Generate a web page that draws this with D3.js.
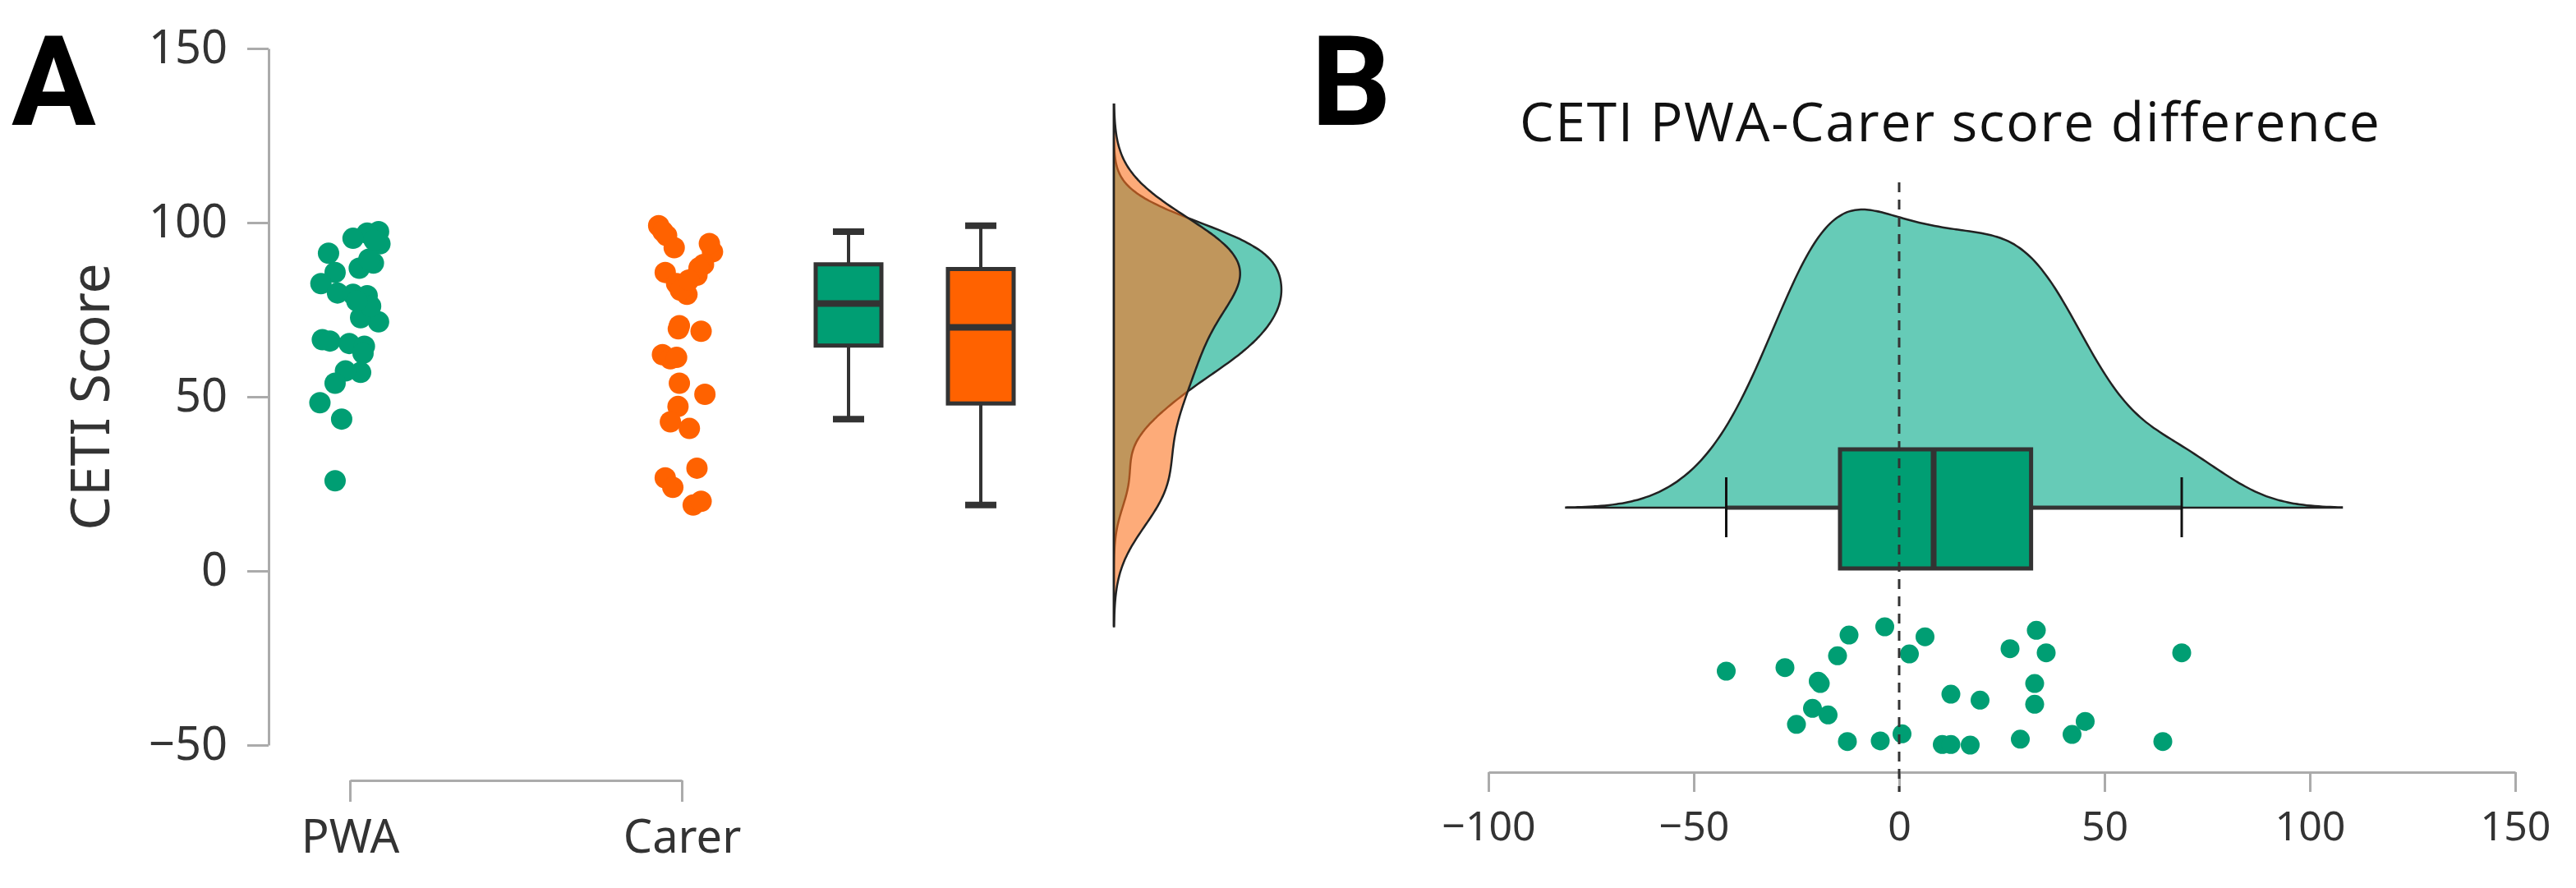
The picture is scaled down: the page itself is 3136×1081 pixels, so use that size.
<!DOCTYPE html>
<html>
<head>
<meta charset="utf-8">
<script src="https://cdn.jsdelivr.net/npm/d3@7/dist/d3.min.js"></script>
<style>
    body { margin: 0; background: #fff; }
</style>
</head>
<body>
<div id="chart"></div>
<script>
'use strict';

// values, jitter is the sideways spread of each dot (-1..1)
var groups = ['PWA', 'Carer'];

var pwaScores = [97.4, 97.0, 95.5, 93.9, 91.2, 88.4, 86.9, 85.7, 82.5, 79.8,
    79.4, 79.0, 73.5, 71.5, 72.7, 66.4, 66.0, 65.3, 64.5, 62.5,
    57.0, 57.4, 53.9, 48.3, 43.6, 25.9, 76.0, 77.5, 89.5, 95.0];
var pwaJitter = [0.83, 0.5, 0.09, 0.87, -0.62, 0.68, 0.27, -0.43, -0.84, -0.36,
    0.09, 0.5, 0.38, 0.83, 0.31, -0.8, -0.58, -0.02, 0.42, 0.38,
    0.31, -0.13, -0.43, -0.87, -0.24, -0.43, 0.6, 0.2, 0.55, 0.7];

var carerScores = [99.1, 96.3, 92.8, 91.6, 88.0, 85.7, 84.9, 82.5, 79.4, 70.4,
    68.8, 62.1, 60.9, 61.3, 53.9, 50.7, 47.2, 42.8, 40.9, 29.5,
    26.7, 24.0, 18.9, 20.0, 80.6, 97.5, 94.0, 87.0, 83.5, 69.5];
var carerJitter = [-0.67, -0.44, -0.22, 0.89, 0.63, -0.48, 0.44, -0.15, 0.15, -0.07,
    0.56, -0.56, -0.33, -0.15, -0.07, 0.67, -0.11, -0.33, 0.22, 0.44,
    -0.48, -0.26, 0.33, 0.56, -0.04, -0.55, 0.8, 0.5, 0.2, -0.1];

var diffScores = [-42.1, -27.8, -19.7, -19.2, -15.0, -12.2, -3.5, 6.3, 2.5, -21.1,
    -17.3, -25.0, -12.6, -4.6, 0.7, 10.5, 12.6, 17.3, 12.6, 19.7,
    27.0, 33.4, 35.8, 33.0, 33.0, 29.5, 42.1, 45.3, 64.2, 68.8];
var diffJitter = [-0.25, -0.31, -0.08, -0.04, -0.51, -0.86, -1.0, -0.83, -0.54, 0.38,
    0.49, 0.65, 0.94, 0.93, 0.81, 0.99, 0.99, 1.0, 0.14, 0.24,
    -0.63, -0.94, -0.56, -0.04, 0.31, 0.9, 0.82, 0.6, 0.94, -0.56];

var scoreTicks = [-50, 0, 50, 100, 150];
var diffTicks = [-100, -50, 0, 50, 100, 150];

var width = 3136;
var height = 1081;

var dotGreen = '#009e73';
var dotOrange = '#ff6200';
var dark = '#333';
var axisGrey = '#ababab';
var labelFont = '"Noto Sans", sans-serif';

var svg = d3.select('#chart').append('svg')
    .attr('width', width)
    .attr('height', height);

// rule-of-thumb bandwidth (nrd0)
var bandwidth = function(values) {
    var sorted = values.slice().sort(d3.ascending);
    var iqr = d3.quantile(sorted, 0.75) - d3.quantile(sorted, 0.25);
    return 0.9 * Math.min(d3.deviation(values), iqr / 1.34) * Math.pow(values.length, -0.2);
};

// gaussian kernel density evaluated on [lo, hi]
var kde = function(values, bw, lo, hi) {
    var grid = d3.range(lo, hi, (hi - lo) / 200).concat([hi]);
    return grid.map(function(x) {
        var s = d3.sum(values, function(v) {
            var u = (x - v) / bw;
            return Math.exp(-0.5 * u * u);
        });
        return [x, s / (values.length * bw * Math.sqrt(2 * Math.PI))];
    });
};

var boxStats = function(values) {
    var sorted = values.slice().sort(d3.ascending);
    var q1 = d3.quantile(sorted, 0.25);
    var med = d3.quantile(sorted, 0.5);
    var q3 = d3.quantile(sorted, 0.75);
    var iqr = q3 - q1;
    var lo = d3.min(sorted.filter(function(v) { return v >= q1 - 1.5 * iqr; }));
    var hi = d3.max(sorted.filter(function(v) { return v <= q3 + 1.5 * iqr; }));
    return {q1: q1, med: med, q3: q3, lo: lo, hi: hi};
};

var styleAxis = function(g, size) {
    g.select('.domain').attr('stroke', axisGrey).attr('stroke-width', 3);
    g.selectAll('.tick line').attr('stroke', axisGrey).attr('stroke-width', 3);
    g.selectAll('.tick text')
        .attr('fill', dark)
        .style('font-family', labelFont)
        .style('font-size', size + 'px');
};

// ---------- panel A ----------
var yA = d3.scaleLinear().domain([-50, 150]).range([907, 59]);
var xA = d3.scalePoint().domain(groups).range([426, 830]);
var xBox = d3.scalePoint().domain(groups).range([1033, 1194]);
var jitterA = d3.scaleLinear().domain([-1, 1]).range([-42, 42]);

var sets = [
    {name: 'PWA', scores: pwaScores, jitter: pwaJitter, color: dotGreen, violin: '#00a987'},
    {name: 'Carer', scores: carerScores, jitter: carerJitter, color: dotOrange, violin: '#fc731f'}
];

var yAxisA = svg.append('g')
    .attr('transform', 'translate(327,0)')
    .call(d3.axisLeft(yA).tickValues(scoreTicks).tickSize(26).tickSizeOuter(0).tickPadding(24));
styleAxis(yAxisA, 56);

var xAxisA = svg.append('g')
    .attr('transform', 'translate(0,950)')
    .call(d3.axisBottom(xA).tickSize(26).tickSizeOuter(0).tickPadding(22));
styleAxis(xAxisA, 56);

svg.append('text')
    .attr('transform', 'translate(133,483) rotate(-90)')
    .attr('text-anchor', 'middle')
    .style('font-family', labelFont)
    .style('font-size', '66px')
    .attr('fill', dark)
    .text('CETI Score');

// jittered dots
sets.forEach(function(set) {
    svg.append('g').selectAll('circle')
        .data(set.scores)
        .enter().append('circle')
        .attr('cx', function(d, i) { return xA(set.name) + jitterA(set.jitter[i]); })
        .attr('cy', function(d) { return yA(d); })
        .attr('r', 13)
        .attr('fill', set.color);
});

// box plots
sets.forEach(function(set) {
    var st = boxStats(set.scores);
    var cx = xBox(set.name);
    var g = svg.append('g');
    g.append('line')
        .attr('x1', cx).attr('x2', cx)
        .attr('y1', yA(st.hi)).attr('y2', yA(st.lo))
        .attr('stroke', dark).attr('stroke-width', 4);
    [st.hi, st.lo].forEach(function(v) {
        g.append('line')
            .attr('x1', cx - 19).attr('x2', cx + 19)
            .attr('y1', yA(v)).attr('y2', yA(v))
            .attr('stroke', dark).attr('stroke-width', 8);
    });
    g.append('rect')
        .attr('x', cx - 40).attr('width', 80)
        .attr('y', yA(st.q3)).attr('height', yA(st.q1) - yA(st.q3))
        .attr('fill', set.color)
        .attr('stroke', dark).attr('stroke-width', 5);
    g.append('line')
        .attr('x1', cx - 40).attr('x2', cx + 40)
        .attr('y1', yA(st.med)).attr('y2', yA(st.med))
        .attr('stroke', dark).attr('stroke-width', 8);
});

// half violins on a shared range, orange drawn over green
sets.forEach(function(set) { set.bw = bandwidth(set.scores); });
var loA = d3.min(sets, function(s) { return d3.min(s.scores) - 3 * s.bw; });
var hiA = d3.max(sets, function(s) { return d3.max(s.scores) + 3 * s.bw; });
var densA = sets.map(function(set) { return kde(set.scores, set.bw, loA, hiA); });
var maxA = d3.max(densA, function(d) { return d3.max(d, function(p) { return p[1]; }); });
var xViolin = d3.scaleLinear().domain([0, maxA]).range([1356, 1560]);

var violinArea = d3.area()
    .curve(d3.curveBasis)
    .y(function(d) { return yA(d[0]); })
    .x0(xViolin(0))
    .x1(function(d) { return xViolin(d[1]); });

sets.forEach(function(set, i) {
    svg.append('path')
        .datum(densA[i])
        .attr('d', violinArea)
        .attr('fill', set.violin)
        .attr('fill-opacity', 0.6)
        .attr('stroke', '#222')
        .attr('stroke-width', 2.5);
});

// ---------- panel B ----------
var xB = d3.scaleLinear().domain([-100, 150]).range([1812, 3062]);
var baseB = 618;
var jitterB = d3.scaleLinear().domain([-1, 1]).range([763, 907]);

var xAxisB = svg.append('g')
    .attr('transform', 'translate(0,940)')
    .call(d3.axisBottom(xB).tickValues(diffTicks).tickSize(24).tickSizeOuter(0).tickPadding(23));
styleAxis(xAxisB, 50);

var bwB = 13;
var densB = kde(diffScores, bwB, d3.min(diffScores) - 3 * bwB, d3.max(diffScores) + 3 * bwB);
var hB = d3.scaleLinear()
    .domain([0, d3.max(densB, function(d) { return d[1]; })])
    .range([baseB, 255]);

svg.append('path')
    .datum(densB)
    .attr('d', d3.area()
        .curve(d3.curveBasis)
        .x(function(d) { return xB(d[0]); })
        .y0(baseB)
        .y1(function(d) { return hB(d[1]); }))
    .attr('fill', '#00a987')
    .attr('fill-opacity', 0.6)
    .attr('stroke', '#222')
    .attr('stroke-width', 2.5);

var stB = boxStats(diffScores);
var boxB = svg.append('g');
boxB.append('line')
    .attr('x1', xB(stB.lo)).attr('x2', xB(stB.hi))
    .attr('y1', baseB).attr('y2', baseB)
    .attr('stroke', dark).attr('stroke-width', 5);
[stB.lo, stB.hi].forEach(function(v) {
    boxB.append('line')
        .attr('x1', xB(v)).attr('x2', xB(v))
        .attr('y1', 581).attr('y2', 654)
        .attr('stroke', '#111').attr('stroke-width', 3);
});
boxB.append('rect')
    .attr('x', xB(stB.q1)).attr('width', xB(stB.q3) - xB(stB.q1))
    .attr('y', 547).attr('height', 145)
    .attr('fill', dotGreen)
    .attr('stroke', dark).attr('stroke-width', 5);
boxB.append('line')
    .attr('x1', xB(stB.med)).attr('x2', xB(stB.med))
    .attr('y1', 547).attr('y2', 692)
    .attr('stroke', dark).attr('stroke-width', 7);

svg.append('g').selectAll('circle')
    .data(diffScores)
    .enter().append('circle')
    .attr('cx', function(d) { return xB(d); })
    .attr('cy', function(d, i) { return jitterB(diffJitter[i]); })
    .attr('r', 11.5)
    .attr('fill', dotGreen);

// zero reference line
svg.append('line')
    .attr('x1', xB(0)).attr('x2', xB(0))
    .attr('y1', 222).attr('y2', 964)
    .attr('stroke', dark)
    .attr('stroke-width', 3)
    .attr('stroke-dasharray', '12,9');

svg.append('text')
    .attr('x', 1850).attr('y', 172)
    .style('font-family', '"Open Sans", sans-serif')
    .style('font-size', '66px')
    .style('letter-spacing', '1.7px')
    .attr('fill', '#111')
    .text('CETI PWA-Carer score difference');

// panel letters
svg.append('text')
    .attr('x', 14).attr('y', 152)
    .style('font-family', 'Roboto, sans-serif')
    .style('font-weight', 'bold')
    .style('font-size', '153px')
    .text('A');
svg.append('text')
    .attr('x', 1596).attr('y', 152)
    .style('font-family', 'Roboto, sans-serif')
    .style('font-weight', 'bold')
    .style('font-size', '153px')
    .text('B');
</script>
</body>
</html>
